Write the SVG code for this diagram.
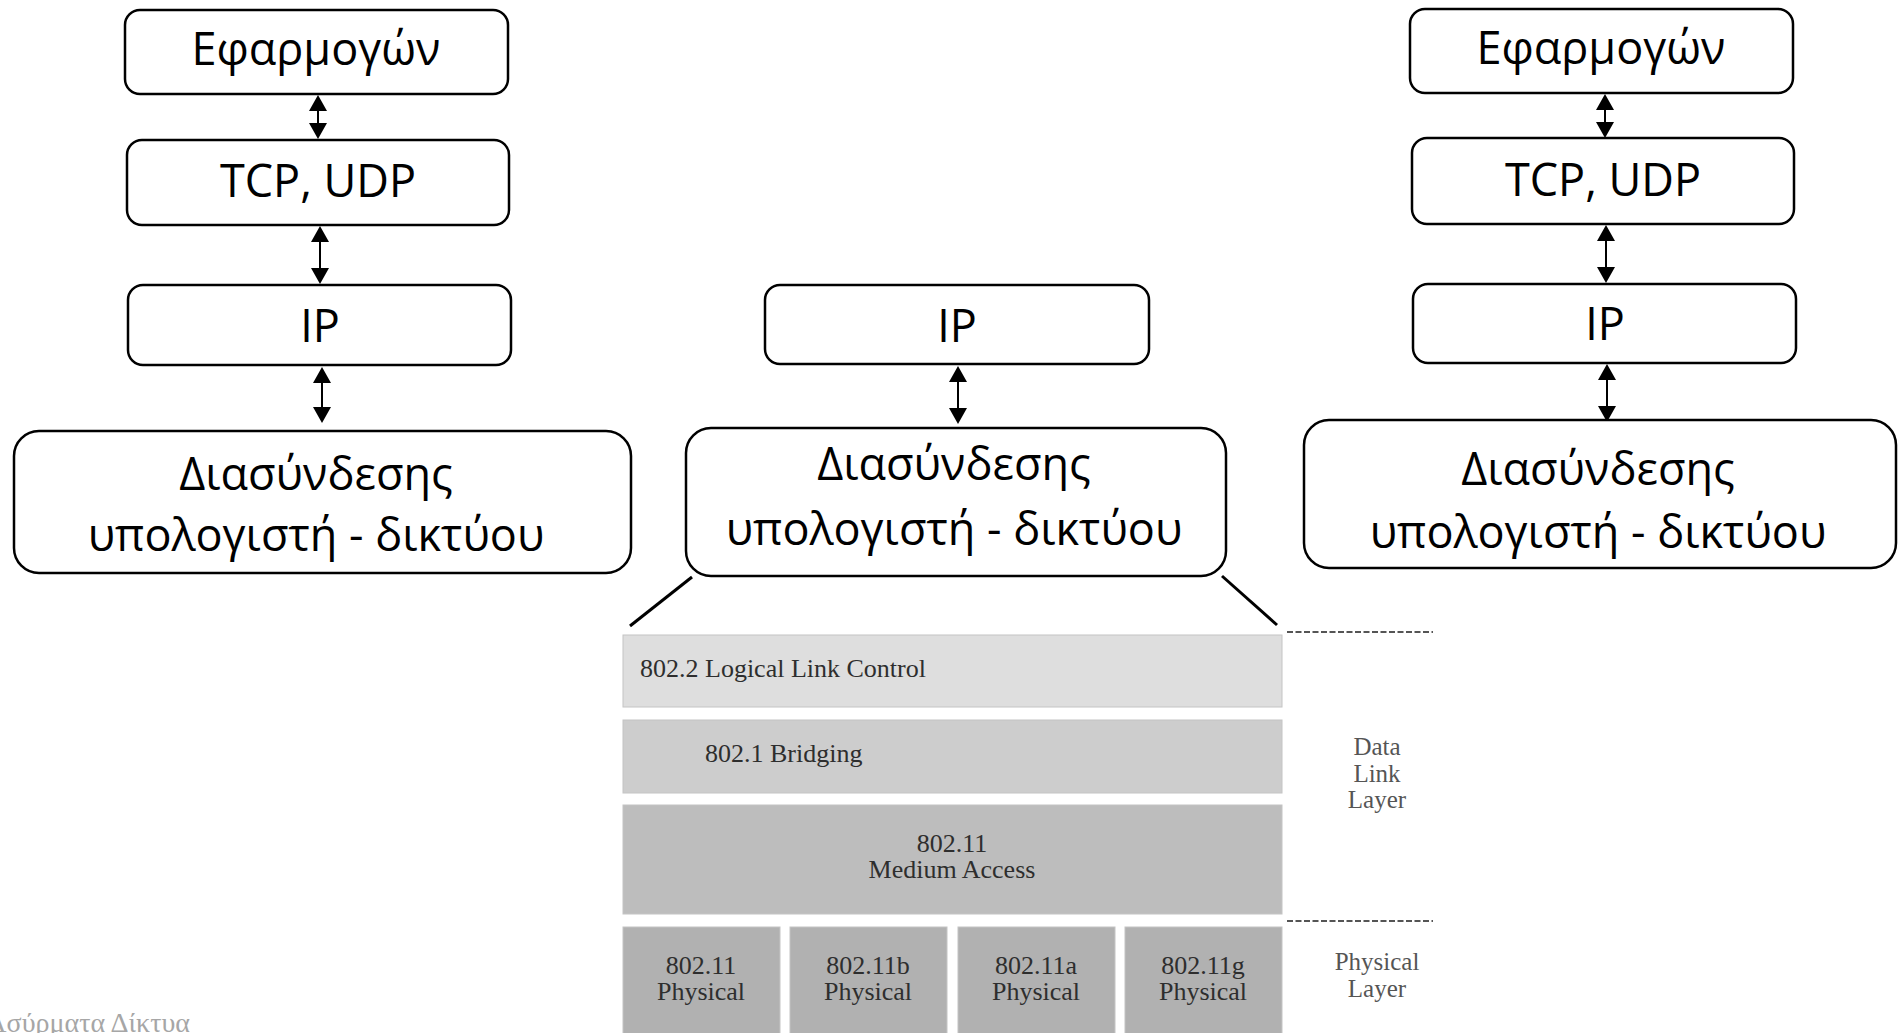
<svg xmlns="http://www.w3.org/2000/svg" width="1903" height="1033" viewBox="0 0 1903 1033">
<style>
.box{fill:#fff;stroke:#000;stroke-width:2.5}
.t{font-family:"Open Sans","Noto Sans",sans-serif;font-size:45px;fill:#000;text-anchor:middle}
.arr{stroke:#000;stroke-width:2;fill:none;marker-start:url(#ah);marker-end:url(#ah)}
.diag{stroke:#000;stroke-width:3}
.ly{stroke:#c4c4c4;stroke-width:1}
.lt{font-family:"Liberation Serif","Times New Roman",serif;font-size:26px;fill:#2e2e2e}
.side{font-family:"Liberation Serif","Times New Roman",serif;font-size:25px;fill:#555;text-anchor:middle}
.dash{stroke:#555;stroke-width:2;stroke-dasharray:6 2.5}
</style>
<defs>
<marker id="ah" markerUnits="userSpaceOnUse" markerWidth="18" markerHeight="18" refX="14" refY="9" orient="auto-start-reverse">
<path d="M0,0 L16,9 L0,18 z" fill="#000"/>
</marker>
</defs>
<rect width="1903" height="1033" fill="#fff"/>

<g id="connectors">
<line class="arr" x1="318" y1="97" x2="318" y2="137"/>
<line class="arr" x1="320" y1="228" x2="320" y2="282"/>
<line class="arr" x1="322" y1="369" x2="322" y2="421"/>
<line class="arr" x1="958" y1="368" x2="958" y2="422"/>
<line class="arr" x1="1605" y1="96" x2="1605" y2="136"/>
<line class="arr" x1="1606" y1="227" x2="1606" y2="281"/>
<line class="arr" x1="1607" y1="366" x2="1607" y2="420"/>
<line class="diag" x1="692" y1="577" x2="630" y2="626"/>
<line class="diag" x1="1222" y1="576" x2="1277" y2="625"/>
</g>

<g id="left-app"><rect class="box" x="125" y="10" width="383" height="84" rx="15"/><text class="t" x="316" y="65">Εφαρμογών</text></g>
<g id="left-tcp"><rect class="box" x="127" y="140" width="382" height="85" rx="15"/><text class="t" x="318" y="197">TCP, UDP</text></g>
<g id="left-ip"><rect class="box" x="128" y="285" width="383" height="80" rx="15"/><text class="t" x="320" y="342">IP</text></g>
<g id="left-link"><rect class="box" x="14" y="431" width="617" height="142" rx="25"/><text class="t" x="316" y="490">Διασύνδεσης</text><text class="t" x="316" y="551">υπολογιστή - δικτύου</text></g>

<g id="mid-ip"><rect class="box" x="765" y="285" width="384" height="79" rx="15"/><text class="t" x="957" y="342">IP</text></g>
<g id="mid-link"><rect class="box" x="686" y="428" width="540" height="148" rx="25"/><text class="t" x="954" y="480">Διασύνδεσης</text><text class="t" x="954" y="545">υπολογιστή - δικτύου</text></g>

<g id="right-app"><rect class="box" x="1410" y="9" width="383" height="84" rx="15"/><text class="t" x="1601" y="64">Εφαρμογών</text></g>
<g id="right-tcp"><rect class="box" x="1412" y="138" width="382" height="86" rx="15"/><text class="t" x="1603" y="196">TCP, UDP</text></g>
<g id="right-ip"><rect class="box" x="1413" y="284" width="383" height="79" rx="15"/><text class="t" x="1605" y="340">IP</text></g>
<g id="right-link"><rect class="box" x="1304" y="420" width="592" height="148" rx="25"/><text class="t" x="1598" y="485">Διασύνδεσης</text><text class="t" x="1598" y="548">υπολογιστή - δικτύου</text></g>

<g id="llc"><rect class="ly" x="623" y="635" width="659" height="72" fill="#dedede"/><text class="lt" x="640" y="677">802.2 Logical Link Control</text></g>
<g id="bridging"><rect class="ly" x="623" y="720" width="659" height="73" fill="#cdcdcd"/><text class="lt" x="705" y="762">802.1 Bridging</text></g>
<g id="mac"><rect class="ly" x="623" y="805" width="659" height="109" fill="#bdbdbd"/><text class="lt" x="952" y="852" text-anchor="middle">802.11</text><text class="lt" x="952" y="878" text-anchor="middle">Medium Access</text></g>
<g id="phy1"><rect class="ly" x="623" y="927" width="157" height="112" fill="#b1b1b1"/><text class="lt" x="701" y="974" text-anchor="middle">802.11</text><text class="lt" x="701" y="1000" text-anchor="middle">Physical</text></g>
<g id="phy2"><rect class="ly" x="790" y="927" width="157" height="112" fill="#b1b1b1"/><text class="lt" x="868" y="974" text-anchor="middle">802.11b</text><text class="lt" x="868" y="1000" text-anchor="middle">Physical</text></g>
<g id="phy3"><rect class="ly" x="958" y="927" width="157" height="112" fill="#b1b1b1"/><text class="lt" x="1036" y="974" text-anchor="middle">802.11a</text><text class="lt" x="1036" y="1000" text-anchor="middle">Physical</text></g>
<g id="phy4"><rect class="ly" x="1125" y="927" width="157" height="112" fill="#b1b1b1"/><text class="lt" x="1203" y="974" text-anchor="middle">802.11g</text><text class="lt" x="1203" y="1000" text-anchor="middle">Physical</text></g>

<g id="side-labels">
<line class="dash" x1="1287" y1="632" x2="1433" y2="632"/>
<line class="dash" x1="1287" y1="921" x2="1433" y2="921"/>
<text class="side" x="1377" y="755">Data</text>
<text class="side" x="1377" y="782">Link</text>
<text class="side" x="1377" y="808">Layer</text>
<text class="side" x="1377" y="970">Physical</text>
<text class="side" x="1377" y="997">Layer</text>
</g>

<g id="footer"><text x="190" y="1032" font-family="Liberation Serif, serif" font-size="28" fill="#a6a6a6" text-anchor="end">Ασύρματα Δίκτυα</text></g>
</svg>
